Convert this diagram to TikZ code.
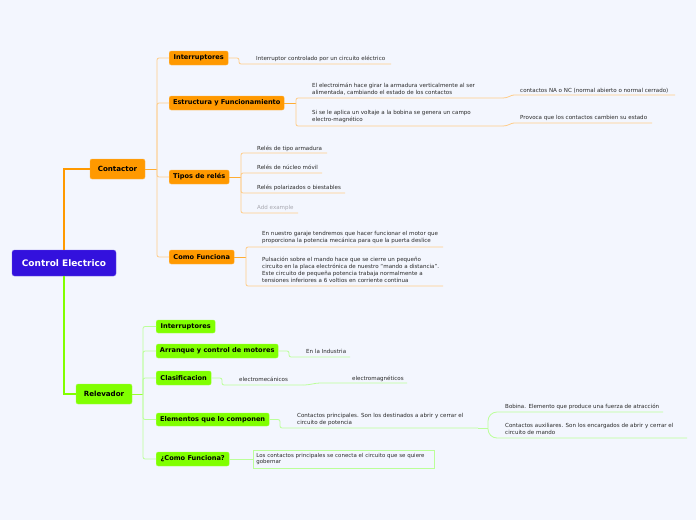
\documentclass[tikz,border=0pt]{standalone}
\usepackage{fontspec}
\setmainfont{DejaVu Sans}
\definecolor{bg}{HTML}{F3F6FE}
\definecolor{rootc}{HTML}{3311DD}
\definecolor{orn}{HTML}{FF9900}
\definecolor{ornl}{HTML}{FFCC88}
\definecolor{grn}{HTML}{80FF00}
\definecolor{grnl}{HTML}{BBFF99}
\definecolor{txt}{HTML}{2A2A2A}
\definecolor{hint}{HTML}{A8A8B0}
\tikzset{
  rootbox/.style={fill=rootc, draw=rootc!70!white, rounded corners=2.5pt, text=white, font=\bfseries\fontsize{9}{10}\selectfont, inner sep=0pt, line width=0.4pt},
  obox/.style={fill=orn, draw=orn!70!white, rounded corners=2pt, text=black, font=\bfseries\fontsize{6.6}{8}\selectfont, inner sep=0pt, line width=0.4pt},
  gbox/.style={fill=grn, draw=grn!70!white, rounded corners=2pt, text=black, font=\bfseries\fontsize{6.6}{8}\selectfont, inner sep=0pt, line width=0.4pt},
  leaf/.style={text=txt, font=\fontsize{5.55}{6.8}\selectfont, inner sep=0pt, align=left, anchor=base west},
  omain/.style={draw=orn, line width=1.3pt},
  gmain/.style={draw=grn, line width=1.3pt},
  oline/.style={draw=ornl, line width=0.8pt, rounded corners=2pt},
  olinek/.style={draw=orn!80!white, line width=0.9pt},
  gline/.style={draw=grnl, line width=0.8pt, rounded corners=2pt},
  glinek/.style={draw=grn!80!white, line width=0.9pt},
}
\begin{document}
\begin{tikzpicture}[x=1pt,y=-1pt]
\fill[bg] (0,0) rectangle (696,520);
\useasboundingbox (0,0) rectangle (696,520);

% main nodes
\node[rootbox, minimum width=104pt, minimum height=26pt] (root) at (64,263) {Control Electrico};
\node[obox, minimum width=55pt, minimum height=20pt, font=\bfseries\fontsize{7.1}{8}\selectfont] (cont) at (117.5,169) {Contactor};
\node[gbox, minimum width=56pt, minimum height=20pt, font=\bfseries\fontsize{7.1}{8}\selectfont] (rel) at (104,394) {Relevador};

\draw[omain] (root.north) |- (cont.west);
\draw[gmain] (root.south) |- (rel.west);

% Contactor children
\node[obox, minimum width=59pt, minimum height=14pt, anchor=west] (cint) at (169,58) {Interruptores};
\node[obox, minimum width=115pt, minimum height=14pt, anchor=west] (cest) at (169,103) {Estructura y Funcionamiento};
\node[obox, minimum width=60pt, minimum height=14pt, anchor=west] (ctip) at (169,177) {Tipos de relés};
\node[obox, minimum width=65pt, minimum height=14pt, anchor=west] (ccom) at (169,257) {Como Funciona};

\coordinate (cj) at (157,169);
\draw[olinek] (cont.east) -- (cj);
\draw[oline] (cj) |- (cint.west);
\draw[oline] (cj) |- (cest.west);
\draw[oline] (cj) |- (ctip.west);
\draw[oline] (cj) |- (ccom.west);

% Interruptores leaf
\node[leaf] (i1) at (256,60) {Interruptor controlado por un circuito eléctrico};
\coordinate (i1e) at (391,64);
\draw[oline] (cint.east) -- (239,58) |- (i1e);

% Estructura leaves
\node[leaf] (e1) at (312,94.7) {El electroimán hace girar la armadura verticalmente al ser\\alimentada, cambiando el estado de los contactos};
\node[leaf] (e2) at (312,121.7) {Si se le aplica un voltaje a la bobina se genera un campo\\electro-magnético};
\coordinate (ej) at (296,103);
\coordinate (e1e) at (503,98);
\coordinate (e2e) at (503,126);
\draw[olinek] (cest.east) -- (ej);
\draw[oline] (ej) |- (e1e);
\draw[oline] (ej) |- (e2e);
\node[leaf] (g1) at (520,92) {contactos NA o NC (normal abierto o normal cerrado)};
\node[leaf] (g2) at (520,119) {Provoca que los contactos cambien su estado};
\coordinate (g1e) at (675,95);
\coordinate (g2e) at (652,123);
\draw[oline] (e1e) to[out=0,in=180] (516,95) -- (g1e);
\draw[oline] (e2e) to[out=0,in=180] (516,123) -- (g2e);

% Tipos de relés leaves
\node[leaf] (r1) at (257,150) {Relés de tipo armadura};
\node[leaf] (r2) at (257,169) {Relés de núcleo móvil};
\node[leaf] (r3) at (257,189) {Relés polarizados o biestables};
\node[leaf, text=hint] (r4) at (257,209) {Add example};
\coordinate (tj) at (241,177);
\coordinate (r1e) at (327,153);
\coordinate (r2e) at (322,173);
\coordinate (r3e) at (345,193);
\coordinate (r4e) at (298,213);
\draw[olinek] (ctip.east) -- (tj);
\draw[oline] (tj) |- (r1e);
\draw[oline] (tj) |- (r2e);
\draw[oline] (tj) |- (r3e);
\draw[oline] (tj) |- (r4e);

% Como Funciona leaves
\node[leaf] (f1) at (262,242.7) {En nuestro garaje tendremos que hacer funcionar el motor que\\proporciona la potencia mecánica para que la puerta deslice};
\node[leaf] (f2) at (262,282) {Pulsación sobre el mando hace que se cierre un pequeño\\circuito en la placa electrónica de nuestro “mando a distancia”.\\Este circuito de pequeña potencia trabaja normalmente a\\tensiones inferiores a 6 voltios en corriente continua};
\coordinate (fj) at (246,257);
\coordinate (f1e) at (443,247);
\coordinate (f2e) at (443,286);
\draw[olinek] (ccom.east) -- (fj);
\draw[oline] (fj) |- (f1e);
\draw[oline] (fj) |- (f2e);

% Relevador children
\node[gbox, minimum width=59pt, minimum height=13pt, anchor=west] (gint) at (156,326.5) {Interruptores};
\node[gbox, minimum width=122pt, minimum height=14pt, anchor=west] (garr) at (156,351) {Arranque y control de motores};
\node[gbox, minimum width=55pt, minimum height=14pt, anchor=west] (gcla) at (156,378) {Clasificacion};
\node[gbox, minimum width=113pt, minimum height=13pt, anchor=west] (gele) at (156,419.5) {Elementos que lo componen};
\node[gbox, minimum width=73pt, minimum height=14pt, anchor=west] (gcom) at (156,459) {¿Como Funciona?};

\coordinate (rj) at (143,394);
\draw[glinek] (rel.east) -- (rj);
\draw[gline] (rj) |- (gint.west);
\draw[gline] (rj) |- (garr.west);
\draw[gline] (rj) |- (gcla.west);
\draw[gline] (rj) |- (gele.west);
\draw[gline] (rj) |- (gcom.west);

% Arranque leaf
\node[leaf] (a1) at (306,353) {En la Industria};
\coordinate (a1e) at (350,357);
\draw[gline] (garr.east) -- (289,351) |- (a1e);

% Clasificacion leaves
\node[leaf] (k1) at (239,381) {electromecánicos};
\node[leaf] (k2) at (352,380) {electromagnéticos};
\coordinate (k1e) at (303,385);
\coordinate (k2e) at (407,383);
\draw[gline] (gcla.east) -- (222,378) |- (k1e);
\draw[gline] (k1e) to[out=0,in=180] (322,383) -- (k2e);

% Elementos leaves
\node[leaf] (m1) at (297,424.2) {Contactos principales. Son los destinados a abrir y cerrar el\\circuito de potencia};
\coordinate (m1e) at (478,428);
\draw[gline] (gele.east) -- (280,419.5) |- (m1e);
\node[leaf] (b1) at (505,408) {Bobina. Elemento que produce una fuerza de atracción};
\node[leaf] (b2) at (505,434.2) {Contactos auxiliares. Son los encargados de abrir y cerrar el\\circuito de mando};
\coordinate (bj) at (488,428);
\coordinate (b1e) at (663,412);
\coordinate (b2e) at (687,438);
\draw[gline] (m1e) -- (bj);
\draw[gline, rounded corners=9pt] (b1e) -- (488,412) -- (488,438) -- (b2e);

% Como Funciona (green) leaf
\node[leaf, anchor=west, draw=grnl, line width=0.8pt, text width=175pt, inner xsep=3pt, inner ysep=0pt, minimum height=18pt, font=\fontsize{5.45}{6.8}\selectfont] (w1) at (253,459) {Los contactos principales se conecta el circuito que se quiere\\gobernar};
\draw[gline] (gcom.east) -- (w1.west);
\end{tikzpicture}
\end{document}
